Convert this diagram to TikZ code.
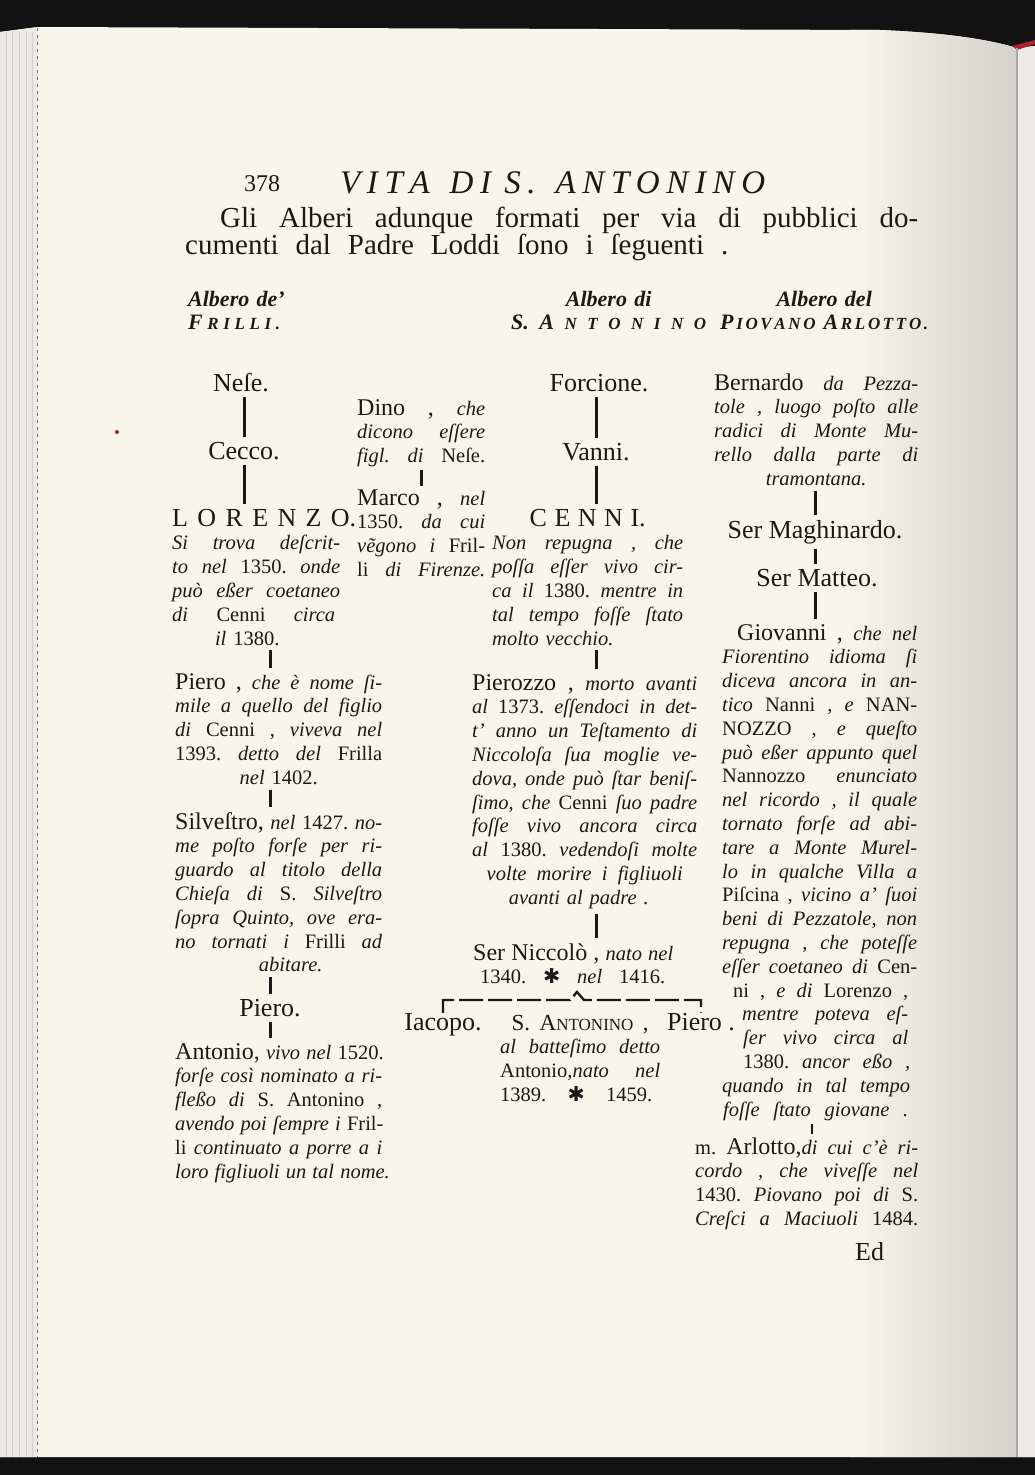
\documentclass[tikz,border=0pt]{standalone}
\usepackage{fontspec}
\setmainfont{Liberation Serif}
\newfontfamily\dejafont{DejaVu Sans}
\frenchspacing
\definecolor{inkcolor}{RGB}{28,24,21}
\definecolor{papercolor}{RGB}{248,245,234}
\definecolor{guttercolor}{RGB}{212,210,201}
\definecolor{edgecolor}{RGB}{236,234,226}
\definecolor{covercolor}{RGB}{170,35,45}
\newcommand\upw[1]{{\upshape #1}}
\newcommand\bigup[1]{{\upshape\fontsize{24}{23.8}\selectfont #1}}
\newcommand\smallcap[2][17]{{\fontsize{#1}{#1}\selectfont #2}}
\newcommand\fillline[1]{{\spaceskip=0.3em plus 1fil\makebox[\linewidth][s]{#1}}}
\newcommand\spreadto[2]{{\spaceskip=0.3em plus 1fil\makebox[#1][s]{#2}}}
\newcommand\deathmark{{\upshape\dejafont ✱}}

\begin{document}
\begin{tikzpicture}[x=1pt, y=-1pt,
  every node/.style={inner sep=0pt, text=inkcolor},
  person/.style={anchor=base, font=\fontsize{26}{23.8}\selectfont},
  entry/.style={anchor=base west, align=center, font=\fontsize{20.5}{23.8}\selectfont\itshape},
  heading/.style={anchor=base west, align=center, font=\fontsize{22}{23}\selectfont\bfseries\itshape},
  stemline/.style={draw=inkcolor, line width=3pt, shorten <=5pt, shorten >=5pt},
  brace/.style={draw=inkcolor, line width=2.4pt, dash pattern=on 24pt off 5pt}]
\useasboundingbox (0,0) rectangle (1035,1475);

% Page and book edges
\fill[black!93] (0,0) rectangle (1035,1475);
\fill[papercolor] (0,32) -- (38,27) -- (880,30) .. controls (950,33) and (990,40) .. (1017,48) -- (1035,46) -- (1035,1457) -- (0,1457) -- cycle;
\begin{scope}
\clip (0,32) -- (38,27) -- (880,30) .. controls (950,33) and (990,40) .. (1017,48) -- (1035,46) -- (1035,1457) -- (0,1457) -- cycle;
\shade[left color=papercolor, right color=guttercolor] (850,20) rectangle (1017,1460);
\fill[edgecolor] (1018,20) rectangle (1035,1460);
\fill[edgecolor] (0,20) rectangle (37,1460);
\end{scope}
\fill[covercolor] (1012,46) -- (1017,50) -- (1035,44) -- (1035,40) -- cycle;
\draw[black!35, line width=1.2pt] (1017,48) -- (1017,1457);
\foreach \x in {6,12,19,26,32} \draw[black!18, line width=0.6pt] (\x,32) -- (\x,1457);
\draw[black!55, line width=1pt, dash pattern=on 3pt off 4pt] (37,28) -- (37,1457);
\fill[covercolor] (117,432) circle (2);

% Running head and opening lines
\node[anchor=base west, font=\fontsize{24}{24}\selectfont] (folio) at (244,191) {378};
\node[anchor=base west, font=\fontsize{33}{33}\selectfont\itshape] (runhead) at (340,193) {\spreadto{425pt}{V\hfil I\hfil T\hfil A\hfil\hfil\hfil D\hfil I\hfil\hfil S\hfil.\hfil\hfil\hfil A\hfil N\hfil T\hfil O\hfil N\hfil I\hfil N\hfil O}};
\node[anchor=base west, text width=733pt, align=left, font=\fontsize{29}{27}\selectfont] (intro) at (185,227) {\hspace*{35pt}\spreadto{698pt}{Gli Alberi adunque formati per via di pubblici do-}\\
  \spreadto{543pt}{cumenti dal Padre Loddi ſono i ſeguenti .}};

% Titles of the three trees
\node[heading, text width=100pt, align=left] (headA) at (188,306) {Albero de'\\
  \spreadto{92pt}{F\hfil\smallcap{R\hfil I\hfil L\hfil L\hfil I\hfil .}}};
\node[heading, text width=195pt] (headB) at (511,306) {Albero di\\
  \spreadto{195pt}{S.\hfil A\hfil\smallcap{N\hfil T\hfil O\hfil N\hfil I\hfil N\hfil O}}};
\node[heading, text width=208pt] (headC) at (720,306) {Albero del\\
  \spreadto{208pt}{P\hfil\smallcap{I\hfil O\hfil V\hfil A\hfil N\hfil O}\hfil\hfil\hfil A\hfil\smallcap{R\hfil L\hfil O\hfil T\hfil T\hfil O\hfil .}}};

% Albero de' Frilli
\node[person] (nese) at (241,391) {Neſe.};
\node[person] (cecco) at (244,459) {Cecco.};
\node[entry, text width=184pt, align=left] (lorenzo) at (172,526) {\upw{\fontsize{26}{23.8}\selectfont\spreadto{184pt}{L\hfil O\hfil R\hfil E\hfil N\hfil Z\hfil O.}}\\
  \spreadto{168pt}{Si trova deſcrit-}\\
  \spreadto{168pt}{to nel \upw{1350.} onde}\\
  \spreadto{168pt}{può eßer coetaneo}\\
  \spreadto{163pt}{di \upw{Cenni} circa}\\
  \makebox[150pt]{il \upw{1380.}}};
\node[entry, text width=207pt] (pieroA) at (175,689) {\fillline{\bigup{Piero ,} che è nome ſi-}\\
  \fillline{mile a quello del figlio}\\
  \fillline{di \upw{Cenni ,} viveva nel}\\
  \fillline{\upw{1393.} detto del \upw{Frilla}}\\
  nel \upw{1402.}};
\node[entry, text width=207pt] (silvestro) at (175,829) {\fillline{\bigup{Silveſtro,} nel \upw{1427.} no-}\\
  \fillline{me poſto forſe per ri-}\\
  \fillline{guardo al titolo della}\\
  \fillline{Chieſa di \upw{S.} Silveſtro}\\
  \fillline{ſopra Quinto, ove era-}\\
  \fillline{no tornati i \upw{Frilli} ad}\\
  \hspace*{24pt}abitare.};
\node[person] (pieroB) at (270,1016) {Piero.};
\node[entry, text width=207pt] (antonio) at (175,1059) {\fillline{\bigup{Antonio,} vivo nel \upw{1520.}}\\
  \fillline{forſe così nominato a ri-}\\
  \fillline{fleßo di \upw{S. Antonino ,}}\\
  \fillline{avendo poi ſempre i \upw{Fril-}}\\
  \fillline{\upw{li} continuato a porre a i}\\
  \fillline{loro figliuoli un tal nome.}};
\node[entry, text width=128pt] (dino) at (357,415) {\fillline{\bigup{Dino ,} che}\\
  \fillline{dicono eſſere}\\
  \fillline{figl. di \upw{Neſe.}}};
\node[entry, text width=128pt] (marco) at (357,505) {\fillline{\bigup{Marco ,} nel}\\
  \fillline{\upw{1350.} da cui}\\
  \fillline{vẽgono i \upw{Fril-}}\\
  \fillline{\upw{li} di Firenze.}};

% Albero di S. Antonino
\node[person] (forcione) at (599,391) {Forcione.};
\node[person] (vanni) at (596,460) {Vanni.};
\node[entry, text width=191pt] (cenni) at (492,526) {\upw{\fontsize{26}{23.8}\selectfont\spreadto{116pt}{C\hfil E\hfil N\hfil N\hfil I.}}\\
  \fillline{Non repugna , che}\\
  \fillline{poſſa eſſer vivo cir-}\\
  \fillline{ca il \upw{1380.} mentre in}\\
  \fillline{tal tempo foſſe ſtato}\\
  \makebox[\linewidth][l]{molto vecchio.}};
\node[entry, text width=225pt] (pierozzo) at (472,690) {\fillline{\bigup{Pierozzo ,} morto avanti}\\
  \fillline{al \upw{1373.} eſſendoci in det-}\\
  \fillline{t' anno un Teſtamento di}\\
  \fillline{Niccoloſa ſua moglie ve-}\\
  \fillline{dova, onde può ſtar beniſ-}\\
  \fillline{ſimo, che \upw{Cenni} ſuo padre}\\
  \fillline{foſſe vivo ancora circa}\\
  \fillline{al \upw{1380.} vedendoſi molte}\\
  \spreadto{196pt}{volte morire i figliuoli}\\
  avanti al padre .\hspace*{12pt}};
\node[entry, text width=199pt] (niccolo) at (473,960) {\fillline{\bigup{Ser Niccolò ,} nato nel}\\
  \spreadto{185pt}{\upw{1340.} \deathmark{} nel \upw{1416.}}};
\node[person] (iacopo) at (443,1030) {Iacopo.};
\node[entry, text width=160pt] (antonino) at (500,1030) {\upw{\fontsize{23}{23.8}\selectfont\spreadto{137pt}{S. A\smallcap[17]{NTONINO} ,}}\\
  \fillline{al batteſimo detto}\\
  \fillline{\upw{Antonio,}nato nel}\\
  \spreadto{152pt}{\upw{1389.} \deathmark{} \upw{1459.}}\hspace*{8pt}};
\node[person] (pieroC) at (701,1030) {Piero .};
\coordinate (fork) at (577,1000);

% Albero del Piovano Arlotto
\node[entry, text width=204pt] (bernardo) at (714,390) {\fillline{\bigup{Bernardo} da Pezza-}\\
  \fillline{tole , luogo poſto alle}\\
  \fillline{radici di Monte Mu-}\\
  \fillline{rello dalla parte di}\\
  tramontana.};
\node[person] (maghinardo) at (815,538) {Ser Maghinardo.};
\node[person] (matteo) at (817,586) {Ser Matteo.};
\node[entry, text width=195pt, align=left] (giovanni) at (722,640) {\hspace*{15pt}\spreadto{180pt}{\bigup{Giovanni ,} che nel}\\
  \fillline{Fiorentino idioma ſi}\\
  \fillline{diceva ancora in an-}\\
  \fillline{tico \upw{Nanni ,} e \upw{NAN-}}\\
  \fillline{\upw{NOZZO ,} e queſto}\\
  \fillline{può eßer appunto quel}\\
  \fillline{\upw{Nannozzo} enunciato}\\
  \fillline{nel ricordo , il quale}\\
  \fillline{tornato forſe ad abi-}\\
  \fillline{tare a Monte Murel-}\\
  \fillline{lo in qualche Villa a}\\
  \fillline{\upw{Piſcina ,} vicino a' ſuoi}\\
  \fillline{beni di Pezzatole, non}\\
  \fillline{repugna , che poteſſe}\\
  \fillline{eſſer coetaneo di \upw{Cen-}}\\
  \hspace*{11pt}\spreadto{175pt}{\upw{ni ,} e di \upw{Lorenzo ,}}\\
  \hspace*{20pt}\spreadto{166pt}{mentre poteva eſ-}\\
  \hspace*{21pt}\spreadto{165pt}{ſer vivo circa al}\\
  \hspace*{21pt}\spreadto{167pt}{\upw{1380.} ancor eßo ,}\\
  \spreadto{188pt}{quando in tal tempo}\\
  \hspace*{1pt}\spreadto{185pt}{foſſe ſtato giovane .}};
\node[entry, text width=223pt] (arlotto) at (695,1154) {\fillline{\upw{m.} \bigup{Arlotto,}di cui c'è ri-}\\
  \fillline{cordo , che viveſſe nel}\\
  \fillline{\upw{1430.} Piovano poi di \upw{S.}}\\
  \fillline{Creſci a Maciuoli \upw{1484.}}};
\node[person, anchor=base west] (catchword) at (855,1260) {Ed};

% Lines of descent
\draw[stemline] (nese.south -| cecco) -- (cecco.north);
\draw[stemline] (cecco.south) -- (cecco.south |- lorenzo.north);
\draw[stemline] (lorenzo.south -| pieroB) -- (pieroA.north -| pieroB);
\draw[stemline] (pieroA.south -| pieroB) -- (silvestro.north -| pieroB);
\draw[stemline] (silvestro.south -| pieroB) -- (pieroB.north);
\draw[stemline] (pieroB.south) -- (pieroB.south |- antonio.north);
\draw[stemline, shorten <=3pt, shorten >=3pt] (dino.south) -- (marco.north);
\draw[stemline] (forcione.south -| vanni) -- (vanni.north);
\draw[stemline] (vanni.south) -- (vanni.south |- cenni.north);
\draw[stemline] (cenni.south -| vanni) -- (pierozzo.north -| vanni);
\draw[stemline] (pierozzo.south -| vanni) -- (niccolo.north -| vanni);
\draw[brace] (iacopo.north) -- (iacopo.north |- fork) -- ([xshift=-7pt]fork) -- ++(7,-8) -- ++(7,8) -- (pieroC.north |- fork) -- (pieroC.north);
\draw[stemline] (bernardo.south -| maghinardo) -- (maghinardo.north);
\draw[stemline] (maghinardo.south) -- (maghinardo.south |- matteo.north);
\draw[stemline] (matteo.south -| maghinardo) -- (giovanni.north -| maghinardo);
\draw[stemline, line width=2pt, shorten <=3pt, shorten >=3pt] ([xshift=-3pt]giovanni.south -| maghinardo) -- ([xshift=-3pt]arlotto.north -| maghinardo);
\end{tikzpicture}
\end{document}
